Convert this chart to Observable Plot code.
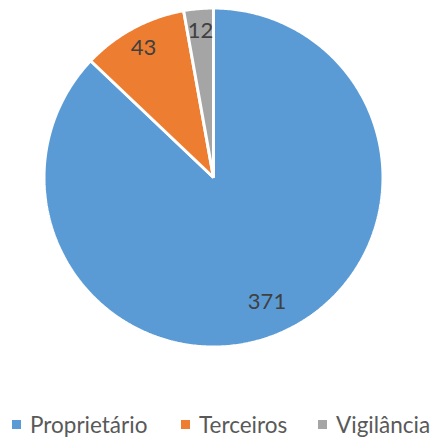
<!DOCTYPE html>
<html>
<head>
<meta charset="utf-8">
<script src="https://cdn.jsdelivr.net/npm/d3@7"></script>
<script src="https://cdn.jsdelivr.net/npm/@observablehq/plot@0.6"></script>
<style>
  html, body { margin: 0; padding: 0; background: #fff; }
  #wrap { position: relative; width: 430px; height: 441px; font-family: Lato, "Open Sans", sans-serif; }
  #legend { position: absolute; left: 0; top: 408px; width: 430px; height: 33px; }
  .item { position: absolute; top: 0; display: flex; align-items: center; font-size: 22.5px; color: #595959; line-height: 33px; }
  .sw { width: 9px; height: 9px; margin-right: 9px; }
</style>
</head>
<body>
<div id="wrap"><div id="chart"></div><div id="legend"></div></div>
<script>
const categories = ["Proprietário", "Terceiros", "Vigilância"];
const values = [371, 43, 12];
const colors = ["#5B9BD5", "#ED7D31", "#A5A5A5"];

// layout constants
const W = 430, H = 370, CX = 213, CY = 177, R = 169.5;

const arcs = d3.pie().sort(null).value(d => d)(values);
const slices = [];
arcs.forEach((a, i) => {
  const name = categories[i];
  slices.push({name, x: 0, y: 0});
  const n = Math.max(4, Math.ceil((a.endAngle - a.startAngle) / 0.01));
  for (let k = 0; k <= n; k++) {
    const t = a.startAngle + (a.endAngle - a.startAngle) * k / n;
    slices.push({name, x: Math.sin(t), y: Math.cos(t)});
  }
});
const labels = arcs.map((a, i) => {
  const m = (a.startAngle + a.endAngle) / 2;
  const r = (a.endAngle - a.startAngle) > Math.PI ? 0.80 : 0.87;
  return {text: String(values[i]), x: r * Math.sin(m), y: r * Math.cos(m)};
});

const chart = Plot.plot({
  width: W, height: H,
  marginTop: 0, marginRight: 0, marginBottom: 0, marginLeft: 0,
  x: {domain: [-CX / R, (W - CX) / R], axis: null},
  y: {domain: [-(H - CY) / R, CY / R], axis: null},
  color: {domain: categories, range: colors},
  marks: [
    Plot.line(slices, {x: "x", y: "y", z: "name", fill: "name", stroke: "white", strokeWidth: 3, strokeLinejoin: "miter", curve: "linear-closed"}),
    Plot.text(labels, {x: "x", y: "y", text: "text", fill: "#404040", fontSize: 22, fontFamily: "Lato, 'Open Sans', sans-serif"})
  ]
});
document.getElementById("chart").appendChild(chart);

const legendX = [12, 181, 318];
const legend = document.getElementById("legend");
categories.forEach((c, i) => {
  const it = document.createElement("div");
  it.className = "item";
  it.style.left = legendX[i] + "px";
  const sw = document.createElement("div");
  sw.className = "sw";
  sw.style.background = colors[i];
  const tx = document.createElement("span");
  tx.textContent = c;
  it.appendChild(sw); it.appendChild(tx);
  legend.appendChild(it);
});
</script>
</body>
</html>
